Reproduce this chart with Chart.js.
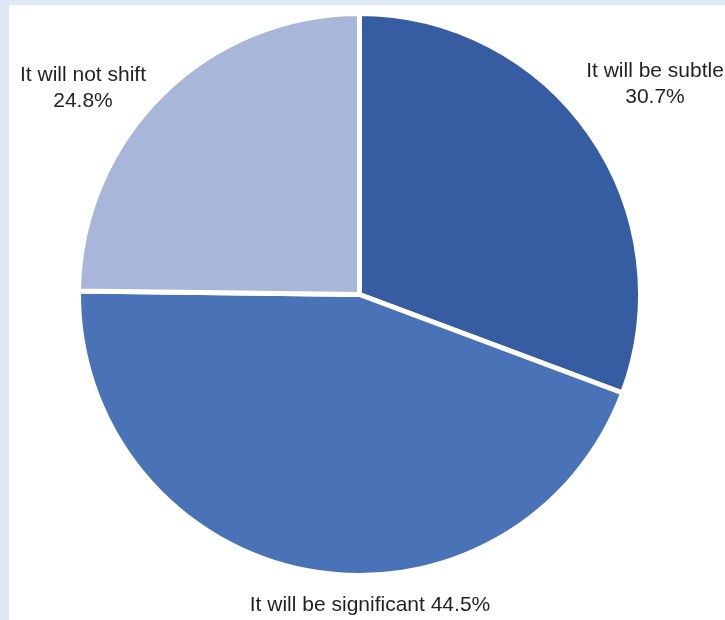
<!DOCTYPE html>
<html>
<head>
<meta charset="utf-8">
<script src="https://cdn.jsdelivr.net/npm/chart.js@4.4.1/dist/chart.umd.min.js"></script>
<style>
  html, body { margin: 0; padding: 0; }
  body { width: 725px; height: 620px; background: #dde9f5; position: relative; overflow: hidden; }
  #panel { position: absolute; left: 9px; top: 5px; right: 0; bottom: 0; background: #fff; }
  #wrap { position: absolute; left: 0; top: 0; width: 725px; height: 620px; }
</style>
</head>
<body>
<div id="panel"></div>
<div id="wrap"><canvas id="pieChart" width="725" height="620"></canvas></div>
<script>
// answers, in drawing order (clockwise from 12 o'clock)
var answers = ["It will be subtle", "It will be significant", "It will not shift"];
var shares = [30.7, 44.5, 24.8];
var sliceColors = ["#365da1", "#4a72b7", "#a8b6da"];

// where each caption sits (px in the page), and whether it is split on two lines
var captionPos = [
	{x: 655, y: 71, twoLines: true},
	{x: 370, y: 605, twoLines: false},
	{x: 83, y: 75, twoLines: true}
];

var captionPlugin = {
	id: 'captions',
	afterDraw: function(chart){
		var ctx = chart.ctx;
		ctx.save();
		ctx.font = '21px "Liberation Sans", Arial, sans-serif';
		ctx.fillStyle = '#231f20';
		ctx.textAlign = 'center';
		ctx.textBaseline = 'middle';
		for (var i = 0; i < answers.length; i++) {
			var p = captionPos[i];
			var pct = shares[i].toFixed(1) + '%';
			if (p.twoLines) {
				ctx.fillText(answers[i], p.x, p.y);
				ctx.fillText(pct, p.x, p.y + 26);
			} else {
				ctx.fillText(answers[i] + ' ' + pct, p.x, p.y);
			}
		}
		ctx.restore();
	}
};

const CHART = document.getElementById("pieChart");
let pieChart = new Chart(CHART, {
	type: 'pie',
	data: {
		labels: answers,
		datasets: [{
			data: shares,
			backgroundColor: sliceColors,
			borderColor: '#ffffff',
			borderWidth: 5,
			hoverOffset: 0
		}]
	},
	options: {
		responsive: false,
		animation: false,
		events: [],
		layout: { padding: { left: 76, right: 82, top: 11, bottom: 42 } },
		plugins: {
			legend: { display: false },
			tooltip: { enabled: false }
		}
	},
	plugins: [captionPlugin]
});
</script>
</body>
</html>
